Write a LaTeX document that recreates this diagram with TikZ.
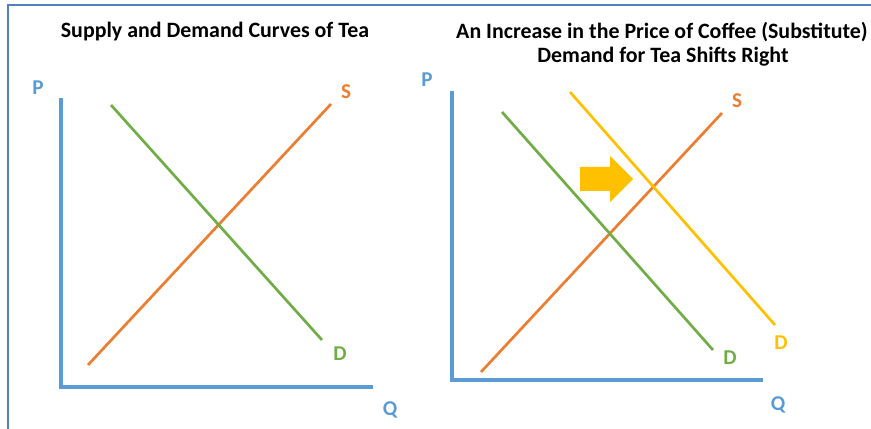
\documentclass[tikz,border=0pt]{standalone}
\usepackage{fontspec}
\setmainfont{Carlito}
\usetikzlibrary{arrows.meta, positioning}

\definecolor{axisblue}{HTML}{5B9BD5}
\definecolor{frameblue}{HTML}{4F81BD}
\definecolor{supplyorange}{HTML}{ED7D31}
\definecolor{demandgreen}{HTML}{70AD47}
\definecolor{shiftyellow}{HTML}{FFC000}

\begin{document}
\begin{tikzpicture}[
    x=0.03cm, y=-0.03cm,
    axis/.style={draw=axisblue, line width=3.4pt},
    curve/.style={line width=2.3pt, line cap=butt},
    title/.style={font=\fontsize{18.7}{22}\selectfont\bfseries},
    lbl/.style={font=\fontsize{18}{20}\selectfont\bfseries, inner sep=0pt}
  ]
  \useasboundingbox (0,0) rectangle (871,429);

  % frame
  \draw[frameblue, line width=1.4pt] (8,429) -- (8,5) -- (871,5);

  % titles
  \node[title] (t1) at (215,32) {Supply and Demand Curves of Tea};
  \node[title] (t2) at (662,32) {An Increase in the Price of Coffee (Substitute)};
  \node[title] (t3) at (663,57) {Demand for Tea Shifts Right};

  % left graph
  \coordinate (o1) at (61,387);
  \coordinate (py1) at (61,98);
  \coordinate (qx1) at (373,387);
  \draw[axis] (py1) -- (o1) -- (qx1);
  \node[lbl, text=axisblue] (p1) at (38,88) {P};
  \node[lbl, text=axisblue] (q1) at (390,410) {Q};

  \coordinate (s1a) at (88,365);
  \coordinate (s1b) at (331,104);
  \draw[curve, supplyorange] (s1a) -- (s1b);
  \node[lbl, text=supplyorange] (s1) at (346,92) {S};

  \coordinate (d1a) at (111,105);
  \coordinate (d1b) at (322,340);
  \draw[curve, demandgreen] (d1a) -- (d1b);
  \node[lbl, text=demandgreen] (d1) at (340,354) {D};

  % right graph
  \coordinate (o2) at (452,380);
  \coordinate (py2) at (452,91);
  \coordinate (qx2) at (763,380);
  \draw[axis] (py2) -- (o2) -- (qx2);
  \node[lbl, text=axisblue] (p2) at (427,80) {P};
  \node[lbl, text=axisblue] (q2) at (778,405) {Q};

  \coordinate (s2a) at (481,372);
  \coordinate (s2b) at (722,113);
  \draw[curve, supplyorange] (s2a) -- (s2b);
  \node[lbl, text=supplyorange] (s2) at (737,101) {S};

  \coordinate (d2a) at (502,112);
  \coordinate (d2b) at (713,350);
  \draw[curve, demandgreen] (d2a) -- (d2b);
  \node[lbl, text=demandgreen] (d2) at (730,358) {D};

  \coordinate (d3a) at (570,92);
  \coordinate (d3b) at (775,325);
  \draw[curve, shiftyellow] (d3a) -- (d3b);
  \node[lbl, text=shiftyellow] (d3) at (781,343) {D};

  % shift arrow
  \fill[shiftyellow] (580,167) -- (610,167) -- (610,156) -- (633,179)
    -- (610,202) -- (610,191) -- (580,191) -- cycle;
\end{tikzpicture}
\end{document}
